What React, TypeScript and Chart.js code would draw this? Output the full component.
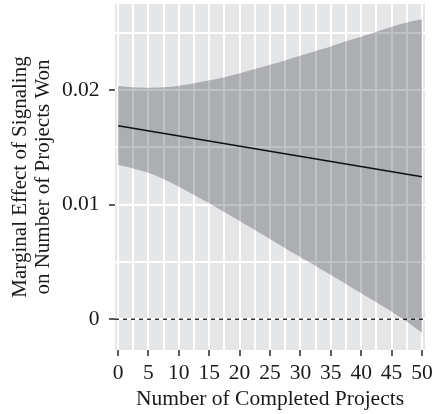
import React, { useEffect, useRef } from "react";
import { Chart, registerables } from "chart.js";

Chart.register(...registerables);

// Data
const ciX = [0, 2.5, 5, 7.5, 10, 12.5, 15, 17.5, 20, 22.5, 25, 27.5, 30, 32.5, 35, 37.5, 40, 42.5, 45, 47.5, 50];
const ciUpper = [0.02034, 0.02023, 0.02019, 0.02023, 0.02037, 0.02058, 0.02084, 0.02112, 0.02145, 0.02182, 0.0222, 0.02258, 0.02298, 0.02339, 0.0238, 0.02424, 0.02464, 0.02507, 0.02551, 0.02589, 0.02616];
const ciLower = [0.01345, 0.01316, 0.01278, 0.01223, 0.01156, 0.01084, 0.01011, 0.00933, 0.00857, 0.00779, 0.007, 0.00619, 0.00541, 0.00465, 0.00387, 0.00308, 0.00227, 0.00148, 0.00066, -0.00021, -0.00117];
const fitX = [0, 50];
const fitY = [0.01688, 0.01244];
const refLineY = 0;

const xMin = -0.5;
const xMax = 50.5;
const yMin = -0.00268;
const yMax = 0.0275;

const xGridValues = [0, 2.5, 5, 7.5, 10, 12.5, 15, 17.5, 20, 22.5, 25, 27.5, 30, 32.5, 35, 37.5, 40, 42.5, 45, 47.5, 50];
const xTickLabels: Record<string, string> = { "0": "0", "5": "5", "10": "10", "15": "15", "20": "20", "25": "25", "30": "30", "35": "35", "40": "40", "45": "45", "50": "50" };
const yGridValues = [0, 0.005, 0.01, 0.015, 0.02, 0.025];
const yTickLabels: Record<string, string> = { "0": "0", "0.01": "0.01", "0.02": "0.02" };

const xTitle = "Number of Completed Projects";
const yTitle = ["Marginal Effect of Signaling", "on Number of Projects Won"];

const FONT = "'Liberation Serif', 'Times New Roman', serif";
const TEXT = "#1a1a1a";

const panelBg = {
  id: "panelBg",
  beforeDraw(chart: any) {
    const { ctx, chartArea } = chart;
    ctx.save();
    ctx.fillStyle = "#E5E6E8";
    ctx.fillRect(chartArea.left, chartArea.top, chartArea.right - chartArea.left, chartArea.bottom - chartArea.top);
    ctx.restore();
  },
};

export default function App() {
  const ref = useRef<HTMLCanvasElement | null>(null);
  useEffect(() => {
    document.body.style.margin = "0";
    const canvas = ref.current;
    if (!canvas) return;
    const chart = new Chart(canvas, {
      type: "line",
      data: {
        datasets: [
          {
            label: "lower",
            data: ciX.map((x, i) => ({ x, y: ciLower[i] })),
            borderWidth: 0,
            pointRadius: 0,
            fill: false,
            borderColor: "rgba(0,0,0,0)",
            tension: 0.3,
          },
          {
            label: "upper",
            data: ciX.map((x, i) => ({ x, y: ciUpper[i] })),
            borderWidth: 0,
            pointRadius: 0,
            fill: "-1",
            borderColor: "rgba(0,0,0,0)",
            backgroundColor: "rgba(10,14,20,0.26)",
            tension: 0.3,
          },
          {
            label: "zero",
            data: [
              { x: xMin, y: refLineY },
              { x: xMax, y: refLineY },
            ],
            borderColor: "#2a2a2a",
            borderWidth: 1.4,
            borderDash: [4, 4],
            pointRadius: 0,
            fill: false,
          },
          {
            label: "fit",
            data: fitX.map((x, i) => ({ x, y: fitY[i] })),
            borderColor: "#111111",
            borderWidth: 1.5,
            pointRadius: 0,
            fill: false,
          },
        ],
      },
      options: {
        animation: false,
        responsive: true,
        maintainAspectRatio: false,
        layout: { padding: { top: 4, right: 10, bottom: 0, left: 0 } },
        plugins: { legend: { display: false }, tooltip: { enabled: false } },
        scales: {
          x: {
            type: "linear",
            min: xMin,
            max: xMax,
            afterBuildTicks: (scale: any) => {
              scale.ticks = xGridValues.map((v) => ({ value: v }));
            },
            afterFit: (scale: any) => {
              scale.height = 64;
              scale.paddingLeft = 0;
              scale.paddingRight = 0;
            },
            border: { display: false },
            grid: {
              color: "#ffffff",
              lineWidth: 2,
              drawTicks: true,
              tickLength: 6,
              tickWidth: 1.6,
              tickColor: (c: any) => (c.tick && xTickLabels[String(c.tick.value)] !== undefined ? "#333333" : "rgba(0,0,0,0)"),
            },
            ticks: {
              autoSkip: false,
              maxRotation: 0,
              padding: 4,
              color: TEXT,
              font: { family: FONT, size: 21.5 },
              callback: (v: any) => xTickLabels[String(v)] ?? "",
            },
            title: {
              display: true,
              text: xTitle,
              color: TEXT,
              font: { family: FONT, size: 21.5, lineHeight: 1.1 },
              padding: { top: 0, bottom: 3 },
            },
          },
          y: {
            type: "linear",
            min: yMin,
            max: yMax,
            afterBuildTicks: (scale: any) => {
              scale.ticks = yGridValues.map((v) => ({ value: v }));
            },
            afterFit: (scale: any) => {
              scale.width = 115;
              scale.paddingTop = 0;
              scale.paddingBottom = 0;
            },
            border: { display: false },
            grid: {
              color: "#ffffff",
              lineWidth: 2,
              drawTicks: true,
              tickLength: 6,
              tickWidth: 1.6,
              tickColor: (c: any) => (c.tick && yTickLabels[String(c.tick.value)] !== undefined ? "#333333" : "rgba(0,0,0,0)"),
            },
            ticks: {
              autoSkip: false,
              padding: 9.5,
              color: TEXT,
              font: { family: FONT, size: 21.5 },
              callback: (v: any) => yTickLabels[String(v)] ?? "",
            },
            title: {
              display: true,
              text: yTitle,
              color: TEXT,
              font: { family: FONT, size: 21, lineHeight: 1.1 },
              padding: { top: 9, bottom: 0 },
            },
          },
        },
      },
      plugins: [panelBg],
    });
    return () => chart.destroy();
  }, []);
  return (
    <div style={{ position: "absolute", left: 0, top: 0, width: 435, height: 414 }}>
      <canvas ref={ref} />
    </div>
  );
}
